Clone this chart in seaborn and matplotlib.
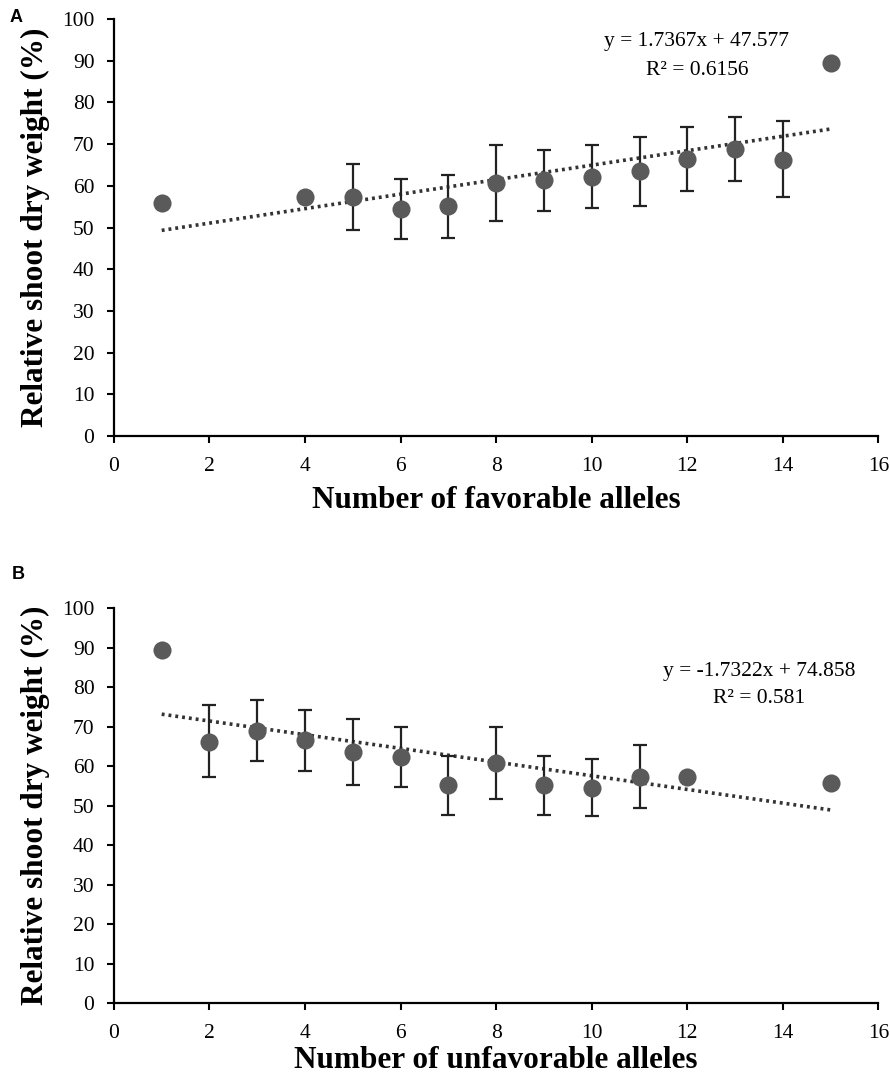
import numpy as np
import pandas as pd
import seaborn as sns
from matplotlib import pyplot as plt

# panel A: favorable alleles
fav_x = [1, 4, 5, 6, 7, 8, 9, 10, 11, 12, 13, 14, 15]
fav_y = [55.8, 57.2, 57.3, 54.5, 55.1, 60.7, 61.3, 62.2, 63.5, 66.5, 68.9, 66.2, 89.4]
fav_lo = [np.nan, np.nan, 49.3, 47.3, 47.6, 51.6, 54.0, 54.6, 55.2, 58.8, 61.2, 57.3, np.nan]
fav_hi = [np.nan, np.nan, 65.3, 61.7, 62.6, 69.8, 68.6, 69.8, 71.8, 74.2, 76.6, 75.5, np.nan]
fav_slope, fav_icpt, fav_r2 = 1.7367, 47.577, 0.6156

# panel B: unfavorable alleles
unf_x = [1, 2, 3, 4, 5, 6, 7, 8, 9, 10, 11, 12, 15]
unf_y = [89.4, 66.2, 68.9, 66.5, 63.5, 62.2, 55.1, 60.7, 55.1, 54.5, 57.3, 57.2, 55.8]
unf_lo = [np.nan, 57.3, 61.2, 58.8, 55.2, 54.6, 47.6, 51.6, 47.6, 47.3, 49.3, np.nan, np.nan]
unf_hi = [np.nan, 75.5, 76.6, 74.2, 71.8, 69.8, 62.6, 69.8, 62.6, 61.7, 65.3, np.nan, np.nan]
unf_slope, unf_icpt, unf_r2 = -1.7322, 74.858, 0.581

sns.set_style('ticks')
plt.rcParams['font.family'] = ['Liberation Serif', 'DejaVu Serif']
plt.rcParams['text.color'] = 'black'
plt.rcParams['axes.labelcolor'] = 'black'
plt.rcParams['xtick.color'] = 'black'
plt.rcParams['ytick.color'] = 'black'

fig = plt.figure(figsize=(8.9, 10.8), dpi=100)
axA = fig.add_axes([0.128, 0.5963, 0.859, 0.3861])
axB = fig.add_axes([0.128, 0.0713, 0.859, 0.3657])


def panel(ax, x, y, lo, hi, slope, icpt, r2, xlabel, eq, eqx, eqy, xlab_y):
    df = pd.DataFrame({'x': x, 'y': y, 'lo': lo, 'hi': hi})
    eb = df.dropna()
    ax.errorbar(eb['x'], eb['y'], yerr=[eb['y'] - eb['lo'], eb['hi'] - eb['y']],
                fmt='none', ecolor='#222222', elinewidth=1.6, capsize=5, capthick=1.6, zorder=2)
    sns.scatterplot(data=df, x='x', y='y', ax=ax, s=170, color='#5a5a5a',
                    edgecolor='#5a5a5a', linewidth=0, zorder=3, legend=False)
    xs = np.array([min(x), max(x)])
    ax.plot(xs, slope * xs + icpt, color='#333333', lw=2.6, ls=(0, (0.8, 1.1)), zorder=1)
    ax.text(eqx, eqy, eq, ha='center', va='center', fontsize=15.5)
    ax.text(eqx, eqy - 6.8, 'R² = ' + str(r2), ha='center', va='center', fontsize=15.5)
    ax.set_xlim(0, 16)
    ax.set_ylim(0, 100)
    ax.set_xticks(range(0, 17, 2))
    ax.set_yticks(range(0, 101, 10))
    ax.tick_params(labelsize=15.5, width=1.5, length=5, color='black')
    ax.tick_params(axis='x', pad=10)
    ax.tick_params(axis='y', pad=9)
    for s in ['left', 'bottom']:
        ax.spines[s].set_linewidth(1.6)
        ax.spines[s].set_color('black')
    sns.despine(ax=ax)
    ax.set_xlabel(xlabel, fontsize=22.5, fontweight='bold')
    ax.set_ylabel('Relative shoot dry weight (%)', fontsize=22.5, fontweight='bold')
    ax.xaxis.set_label_coords(0.5, xlab_y)
    ax.yaxis.set_label_coords(-0.084, 0.5)


panel(axA, fav_x, fav_y, fav_lo, fav_hi, fav_slope, fav_icpt, fav_r2,
      'Number of favorable alleles', 'y = 1.7367x + 47.577', 12.2, 94.5, -0.12)
panel(axB, unf_x, unf_y, unf_lo, unf_hi, unf_slope, unf_icpt, unf_r2,
      'Number of unfavorable alleles', 'y = -1.7322x + 74.858', 13.5, 84.0, -0.11)

fig.text(0.011, 0.992, 'A', fontsize=13, fontweight='bold', family='Liberation Sans', va='top')
fig.text(0.013, 0.476, 'B', fontsize=13, fontweight='bold', family='Liberation Sans', va='top')

fig.savefig('out.png', dpi=100)
